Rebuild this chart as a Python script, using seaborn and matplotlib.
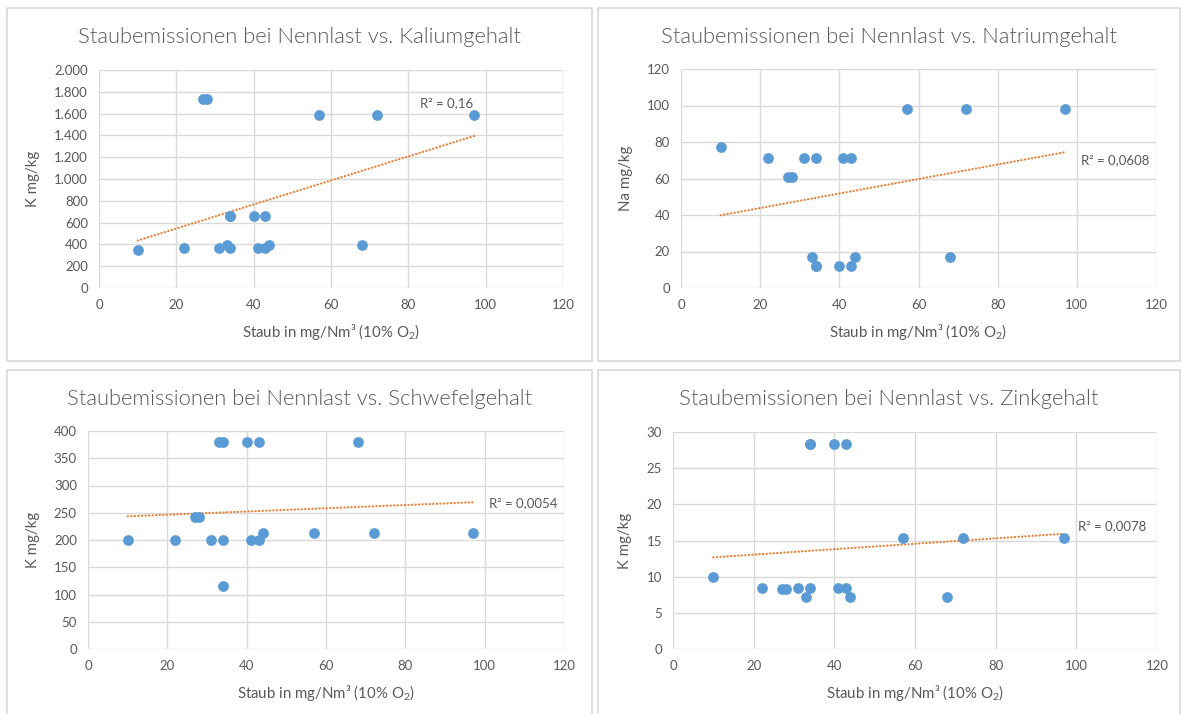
import numpy as np
import matplotlib
matplotlib.use("Agg")
import matplotlib.pyplot as plt
from matplotlib.patches import Rectangle
from matplotlib.ticker import FuncFormatter, MultipleLocator
import seaborn as sns

# Dust emission at nominal load (mg/Nm³, 10 % O2) and fuel contents (mg/kg)
staub = [10, 22, 27, 28, 31, 33, 34, 34, 34, 40, 41, 43, 43, 44, 57, 68, 72, 97]
kalium = [350, 365, 1730, 1730, 365, 390, 660, 365, 660, 660, 365, 660, 365, 390, 1590, 390, 1590, 1590]
natrium = [77, 71, 61, 61, 71, 17, 71, 12, 12, 12, 71, 71, 12, 17, 98, 17, 98, 98]
schwefel = [200, 200, 243, 243, 200, 380, 380, 200, 115, 380, 200, 380, 200, 213, 213, 380, 213, 213]
zink = [10.0, 8.5, 8.3, 8.3, 8.5, 7.2, 8.5, 28.3, 28.3, 28.3, 8.5, 28.3, 8.5, 7.2, 15.3, 7.2, 15.3, 15.3]

titles = [
    "Staubemissionen bei Nennlast vs. Kaliumgehalt",
    "Staubemissionen bei Nennlast vs. Natriumgehalt",
    "Staubemissionen bei Nennlast vs. Schwefelgehalt",
    "Staubemissionen bei Nennlast vs. Zinkgehalt",
]
y_labels = ["K mg/kg", "Na mg/kg", "K mg/kg", "K mg/kg"]
x_label = "Staub in mg/Nm³ (10% O$_2$)"
r2_labels = ["R² = 0,16", "R² = 0,0608", "R² = 0,0054", "R² = 0,0078"]
y_max = [2000, 120, 400, 30]
y_step = [200, 20, 50, 5]
r2_pos = [(83, 1700), (101, 70), (101, 267), (100.5, 17)]

sns.set_theme(style="white")
plt.rcParams['font.family'] = ['Lato', 'DejaVu Sans']
plt.rcParams['mathtext.fontset'] = 'custom'
plt.rcParams['mathtext.rm'] = 'Lato'
plt.rcParams['mathtext.it'] = 'Lato:italic'

W, H = 1182, 714
fig = plt.figure(figsize=(W / 100, H / 100), dpi=100)
fig.patch.set_facecolor("white")

TEXT = "#595959"
GRID = "#d9d9d9"
BLUE = "#5b9bd5"
ORANGE = "#ed7d31"

# chart frames (pixels: left, top, right, bottom)
frames = [(7, 8, 592, 361), (598, 8, 1180, 361), (7, 370, 592, 716), (598, 370, 1180, 716)]
# plot areas (pixels: left, top, right, bottom)
areas = [(99, 70, 563, 288), (681, 69, 1156, 288), (88, 431, 564, 649), (673, 432, 1157, 649)]

datasets = [kalium, natrium, schwefel, zink]


def de_fmt(v, pos):
    return f"{int(round(v)):,}".replace(",", ".")


for i, ys in enumerate(datasets):
    fl, ft, fr, fb = frames[i]
    fig.add_artist(Rectangle((fl / W, 1 - fb / H), (fr - fl) / W, (fb - ft) / H,
                             transform=fig.transFigure, fill=False,
                             edgecolor=GRID, linewidth=1.2))
    fig.text((fl + fr) / 2 / W, 1 - (ft + 29) / H, titles[i], ha="center", va="center",
             fontsize=15.8, color=TEXT, fontweight=300)

    l, t, r, b = areas[i]
    ax = fig.add_axes([l / W, 1 - b / H, (r - l) / W, (b - t) / H])
    ax.set_facecolor("white")
    for s in ax.spines.values():
        s.set_visible(False)
    ax.set_xlim(0, 120)
    ax.set_ylim(0, y_max[i])
    ax.xaxis.set_major_locator(MultipleLocator(20))
    ax.yaxis.set_major_locator(MultipleLocator(y_step[i]))
    ax.grid(True, color=GRID, linewidth=1.0)
    ax.set_axisbelow(True)
    if i == 0:
        ax.yaxis.set_major_formatter(FuncFormatter(de_fmt))
    ax.tick_params(length=0, labelsize=9.5, colors=TEXT, pad=8)

    # linear trend line over the measured range
    sns.regplot(x=np.array(staub, float), y=np.array(ys, float), ax=ax, ci=None,
                scatter=False, truncate=True,
                line_kws=dict(color=ORANGE, linestyle=(0, (0.1, 1.5)), linewidth=1.6,
                              dash_capstyle="round"))
    sns.scatterplot(x=staub, y=ys, ax=ax, s=60, color=BLUE, edgecolor=BLUE,
                    linewidth=0, zorder=3, clip_on=False)

    ax.text(*r2_pos[i], r2_labels[i], ha="left", va="center", fontsize=9.5, color=TEXT)
    ax.set_xlabel(x_label, fontsize=10.8, color=TEXT, labelpad=8)
    ax.set_ylabel(y_labels[i], fontsize=10.8, color=TEXT, labelpad=10)

fig.savefig("out.png", dpi=100, facecolor="white")
